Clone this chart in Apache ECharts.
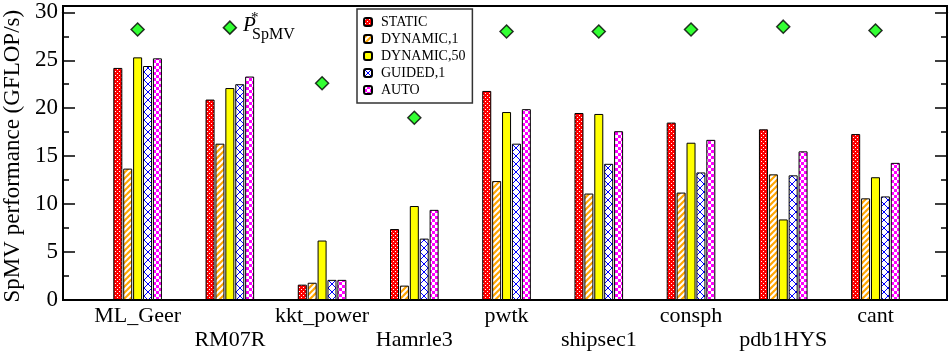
<!DOCTYPE html>
<html>
<head>
<meta charset="utf-8">
<script src="https://cdn.jsdelivr.net/npm/echarts@6/dist/echarts.min.js"></script>
<style>
  html, body { margin: 0; padding: 0; background: #fff; }
  #chart { width: 949px; height: 359px; }
</style>
</head>
<body>
<div id="chart"></div>
<script>
// Sparse matrices benchmarked
const matrices = ['ML_Geer', 'RM07R', 'kkt_power', 'Hamrle3', 'pwtk', 'shipsec1', 'consph', 'pdb1HYS', 'cant'];

// SpMV performance (GFLOP/s) per OpenMP schedule
const staticPerf   = [24.2, 20.9, 1.6, 7.4, 21.8, 19.5, 18.5, 17.8, 17.3];
const dynamic1     = [13.7, 16.3, 1.8, 1.5, 12.4, 11.1, 11.2, 13.1, 10.6];
const dynamic50    = [25.3, 22.1, 6.2, 9.8, 19.6, 19.4, 16.4, 8.4, 12.8];
const guided1      = [24.4, 22.5, 2.1, 6.4, 16.3, 14.2, 13.3, 13.0, 10.8];
const autoPerf     = [25.2, 23.3, 2.1, 9.4, 19.9, 17.6, 16.7, 15.5, 14.3];

// Upper bound P*_SpMV per matrix
const pStar        = [28.2, 28.4, 22.6, 19.0, 28.0, 28.0, 28.2, 28.5, 28.1];

const yTicks = [0, 5, 10, 15, 20, 25, 30];

const SERIF = "'Liberation Serif', 'Times New Roman', 'DejaVu Serif', serif";

function makePattern(w, h, draw) {
  const c = document.createElement('canvas');
  c.width = w; c.height = h;
  const ctx = c.getContext('2d');
  draw(ctx, w, h);
  return { image: c, repeat: 'repeat' };
}

const patStatic = makePattern(4, 4, (ctx) => {
  ctx.fillStyle = '#ff0000'; ctx.fillRect(0, 0, 4, 4);
  ctx.fillStyle = '#ffffff';
  ctx.fillRect(1, 1, 1, 1); ctx.fillRect(3, 3, 1, 1);
});
const patDyn1 = makePattern(6, 6, (ctx) => {
  ctx.fillStyle = '#ffa500'; ctx.fillRect(0, 0, 6, 6);
  ctx.strokeStyle = '#ffffff'; ctx.lineWidth = 2;
  [-6, 0, 6].forEach(k => {
    ctx.beginPath(); ctx.moveTo(k - 1, 7); ctx.lineTo(k + 7, -1); ctx.stroke();
  });
});
const patGuided = makePattern(8, 8, (ctx) => {
  ctx.fillStyle = '#ffffff'; ctx.fillRect(0, 0, 8, 8);
  ctx.strokeStyle = '#0000ff'; ctx.lineWidth = 1;
  ctx.beginPath(); ctx.moveTo(0, 0); ctx.lineTo(8, 8); ctx.stroke();
  ctx.beginPath(); ctx.moveTo(0, 8); ctx.lineTo(8, 0); ctx.stroke();
});
const patAuto = makePattern(6, 6, (ctx) => {
  ctx.fillStyle = '#ff00ff'; ctx.fillRect(0, 0, 6, 6);
  ctx.fillStyle = '#ffffff';
  ctx.fillRect(0, 0, 3, 3); ctx.fillRect(3, 3, 3, 3);
});

function barSeries(name, data, color) {
  return {
    name, type: 'bar', data,
    xAxisIndex: 2, yAxisIndex: 3,
    barWidth: 9, barGap: '10%',
    itemStyle: { color, borderColor: '#000', borderWidth: 1 },
    emphasis: { disabled: true }
  };
}

const tickAxis = (position, withLabels) => ({
  gridIndex: 1, type: 'value', position,
  min: yTicks[0], max: yTicks[yTicks.length - 1], interval: 5,
  axisLine: { show: true, onZero: false, lineStyle: { color: '#000', width: 2 } },
  axisTick: { show: true, inside: true, length: 12, lineStyle: { color: '#000', width: 1.5 } },
  minorTick: { show: true, splitNumber: 2, length: 6, lineStyle: { color: '#000', width: 1.5 } },
  splitLine: { show: false },
  axisLabel: withLabels
    ? { color: '#000', fontFamily: SERIF, fontSize: 23, margin: 5 }
    : { show: false }
});

const chart = echarts.init(document.getElementById('chart'), null, { renderer: 'canvas' });

const leftAxis = tickAxis('left', true);
leftAxis.name = 'SpMV performance (GFLOP/s)';
leftAxis.nameLocation = 'middle';
leftAxis.nameRotate = 90;
leftAxis.nameGap = 37;
leftAxis.nameTextStyle = { color: '#000', fontFamily: SERIF, fontSize: 23 };

chart.setOption({
  animation: false,
  backgroundColor: '#fff',
  grid: [
    { left: 63, right: 2, top: 6, bottom: 59, outerBoundsMode: 'none', show: true, borderColor: '#000', borderWidth: 2, backgroundColor: 'transparent' },
    { left: 63, right: 2, top: 12.3, bottom: 59, outerBoundsMode: 'none' },
    { left: 91.5, right: 27.4, top: 12.3, bottom: 59, outerBoundsMode: 'none' }
  ],
  xAxis: [
    { gridIndex: 0, type: 'value', min: 0, max: 1, show: false },
    { gridIndex: 1, type: 'value', min: 0, max: 1, show: false },
    {
      gridIndex: 2, type: 'category', data: matrices,
      axisLine: { show: false }, axisTick: { show: false },
      axisLabel: {
        interval: 0, margin: 4,
        color: '#000', fontFamily: SERIF, fontSize: 22, lineHeight: 24,
        formatter: (v, i) => (i % 2 ? '\n' : '') + v
      }
    }
  ],
  yAxis: [
    { gridIndex: 0, type: 'value', min: 0, max: 1, show: false },
    leftAxis,
    tickAxis('right', false),
    { gridIndex: 2, type: 'value', min: 0, max: 30, show: false }
  ],
  legend: {
    orient: 'vertical', left: 357, top: 9,
    itemWidth: 8, itemHeight: 8, itemGap: 3,
    padding: [6, 7, 6, 6],
    backgroundColor: '#fff', borderColor: '#333', borderWidth: 1.5, borderRadius: 0,
    textStyle: { color: '#000', fontFamily: SERIF, fontSize: 14, lineHeight: 14, padding: [0, 0, 0, 4] },
    data: ['STATIC', 'DYNAMIC,1', 'DYNAMIC,50', 'GUIDED,1', 'AUTO'],
    selectedMode: false
  },
  series: [
    barSeries('STATIC', staticPerf, patStatic),
    barSeries('DYNAMIC,1', dynamic1, patDyn1),
    barSeries('DYNAMIC,50', dynamic50, '#ffff00'),
    barSeries('GUIDED,1', guided1, patGuided),
    barSeries('AUTO', autoPerf, patAuto),
    {
      name: 'P*SpMV', type: 'scatter', data: pStar,
      xAxisIndex: 2, yAxisIndex: 3,
      symbol: 'diamond', symbolSize: 13,
      itemStyle: { color: '#00ff00', borderColor: '#000', borderWidth: 1.5 },
      emphasis: { disabled: true },
      z: 5
    }
  ],
  graphic: [
    { type: 'text', left: 243, top: 15, style: { text: 'P', font: 'italic 21px ' + SERIF, fill: '#000' }, z: 10 },
    { type: 'text', left: 251, top: 11, style: { text: '*', font: '15px ' + SERIF, fill: '#000' }, z: 10 },
    { type: 'text', left: 252, top: 27, style: { text: 'SpMV', font: '16px ' + SERIF, fill: '#000' }, z: 10 }
  ]
});
</script>
</body>
</html>
